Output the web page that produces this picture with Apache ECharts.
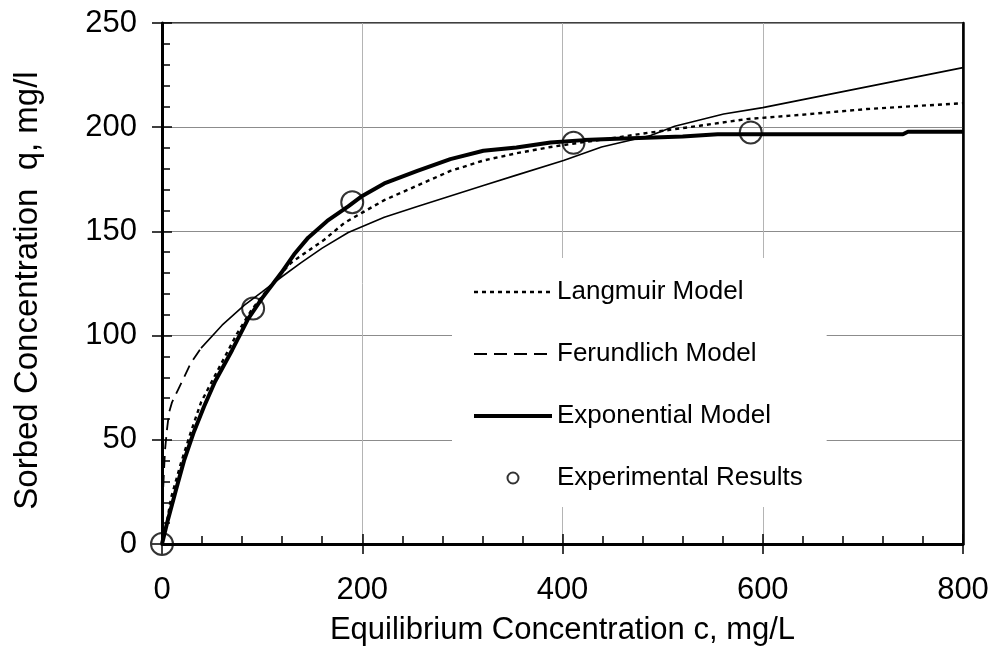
<!DOCTYPE html>
<html>
<head>
<meta charset="utf-8">
<title>Sorption isotherms</title>
<script src="https://cdn.jsdelivr.net/npm/echarts@6/dist/echarts.min.js"></script>
<style>
  html, body { margin: 0; padding: 0; background: #fff; }
  #chart { width: 997px; height: 652px; }
</style>
</head>
<body>
<div id="chart"></div>
<script>
"use strict";

// x ticks / y ticks
const X_TICKS = [0, 200, 400, 600, 800];
const Y_TICKS = [0, 50, 100, 150, 200, 250];

// [c, q]
const langmuir = [
  [0, 0], [4, 8], [9, 22], [19, 39], [29, 54], [39, 68], [52, 80], [75, 101],
  [89, 112], [110, 125], [129, 135], [162, 146], [182, 154], [200, 159],
  [222, 165], [255, 172], [288, 179], [321, 184], [354, 187.5], [388, 190.5],
  [412, 192.2], [454, 195], [481, 197], [537, 200.7], [584, 203.9], [637, 205.9],
  [704, 208.7], [754, 210.2], [800, 211.5]
];
// Freundlich: dashed near the origin, thin solid after that
const freundlichLow = [
  [0, 0], [0.5, 15], [1, 25], [2, 35], [3, 45], [5, 55], [7, 63], [10, 68],
  [16, 74], [22, 80], [29, 87], [39, 94]
];
const freundlichHigh = [
  [39, 94], [60, 105], [82, 114.5], [100, 121], [119, 128], [139, 135],
  [160, 142], [186, 149.5], [222, 156.8], [255, 162], [288, 167], [321, 172],
  [354, 177], [401, 184], [439, 190.5], [488, 196], [512, 200.5], [561, 206.3],
  [600, 209.4], [700, 219], [800, 228.6]
];
const exponential = [
  [0, 0], [5, 10], [14, 26], [22, 40], [32, 54], [42, 66], [53, 78], [70, 93],
  [86, 108], [100, 118], [119, 130], [132, 139], [146, 147], [165, 155],
  [186, 162], [200, 167], [222, 173], [255, 179], [288, 184.7], [321, 188.7],
  [354, 190.3], [388, 192.7], [421, 193.8], [454, 194.5], [491, 195],
  [520, 195.5], [555, 196.6], [740, 196.6], [745, 197.8], [800, 197.8]
];
const experimental = [[0, 0], [91, 113], [190, 164], [411, 192.5], [588, 197.5]];

const FONT = "Liberation Sans, Arial, sans-serif";

const chart = echarts.init(document.getElementById("chart"));

const axisLabel = { color: "#000", fontSize: 31, fontFamily: FONT };
const noDot = { opacity: 0 };

chart.setOption({
  animation: false,
  backgroundColor: "#fff",
  grid: {
    left: 162, right: 34, top: 23, bottom: 108,
    show: true, borderColor: "#000", borderWidth: 1.5
  },
  legend: {
    orient: "vertical",
    left: 452, top: 258,
    padding: [21, 24, 16, 20],
    backgroundColor: "#fff",
    itemWidth: 78, itemHeight: 11, itemGap: 36,
    textStyle: { color: "#000", fontSize: 26, fontFamily: FONT, lineHeight: 26 },
    data: [
      { name: "Langmuir Model", itemStyle: noDot, lineStyle: { width: 2.4, type: [4, 4] } },
      { name: "Ferundlich Model", itemStyle: noDot, lineStyle: { width: 2, type: [13, 7] } },
      { name: "Exponential Model", itemStyle: noDot, lineStyle: { width: 4, type: "solid" } },
      { name: "Experimental Results" }
    ]
  },
  xAxis: [
    {
      type: "value", min: X_TICKS[0], max: X_TICKS[X_TICKS.length - 1], interval: 200,
      position: "bottom",
      axisLine: { lineStyle: { color: "#000", width: 3 } },
      axisTick: { inside: true, length: 10, lineStyle: { color: "#000", width: 1.5 } },
      minorTick: { show: true, splitNumber: 5, length: 8, lineStyle: { color: "#000", width: 1.5 } },
      splitLine: { show: true, lineStyle: { color: "#b4b4b4", width: 1 } },
      axisLabel: Object.assign({ margin: 31, lineHeight: 30 }, axisLabel),
      name: "Equilibrium Concentration c, mg/L",
      nameLocation: "middle", nameGap: 71,
      nameTextStyle: { color: "#000", fontSize: 31, fontFamily: FONT, lineHeight: 31 }
    },
    {
      // outer half of the major ticks
      type: "value", min: 0, max: 800, interval: 200, position: "bottom",
      axisLine: { show: false },
      axisTick: { inside: false, length: 10, lineStyle: { color: "#000", width: 1.5 } },
      axisLabel: { show: false }, splitLine: { show: false }
    }
  ],
  yAxis: [
    {
      type: "value", min: Y_TICKS[0], max: Y_TICKS[Y_TICKS.length - 1], interval: 50,
      position: "left",
      axisLine: { show: true, lineStyle: { color: "#000", width: 3 } },
      axisTick: { show: true, inside: true, length: 10, lineStyle: { color: "#000", width: 1.5 } },
      minorTick: { show: true, splitNumber: 5, length: 8, lineStyle: { color: "#000", width: 1.5 } },
      splitLine: { show: true, lineStyle: { color: "#8c8c8c", width: 1 } },
      axisLabel: Object.assign({ margin: 25 }, axisLabel),
      name: "Sorbed Concentration  q, mg/l",
      nameLocation: "middle", nameGap: 118,
      nameTextStyle: {
        color: "#000", fontSize: 33, fontFamily: FONT, lineHeight: 33,
        padding: [0, 14, 0, 0]
      }
    },
    {
      type: "value", min: 0, max: 250, interval: 50, position: "left",
      axisLine: { show: false },
      axisTick: { show: true, inside: false, length: 10, lineStyle: { color: "#000", width: 1.5 } },
      axisLabel: { show: false }, splitLine: { show: false }
    },
    {
      // right frame
      type: "value", min: 0, max: 250, interval: 50, position: "right",
      axisLine: { show: true, lineStyle: { color: "#000", width: 2.5 } },
      axisTick: { show: false }, axisLabel: { show: false }, splitLine: { show: false }
    }
  ],
  series: [
    {
      name: "Langmuir Model", type: "line", data: langmuir, symbol: "none",
      itemStyle: { color: "#000" },
      lineStyle: { color: "#000", width: 2.4, type: [4, 4] }, z: 3
    },
    {
      name: "Ferundlich Model", type: "line", data: freundlichLow, symbol: "none",
      itemStyle: { color: "#000" },
      lineStyle: { color: "#000", width: 1.8, type: [12, 7] }, z: 3
    },
    {
      type: "line", data: freundlichHigh, symbol: "none",
      itemStyle: { color: "#000" },
      lineStyle: { color: "#000", width: 1.6, type: "solid" }, z: 3
    },
    {
      name: "Exponential Model", type: "line", data: exponential, symbol: "none",
      itemStyle: { color: "#000" },
      lineStyle: { color: "#000", width: 4 }, z: 4
    },
    {
      name: "Experimental Results", type: "scatter", data: experimental,
      symbol: "circle", symbolSize: 22,
      itemStyle: { color: "rgba(0,0,0,0)", borderColor: "#000", borderWidth: 2 }, z: 5
    }
  ]
});
</script>
</body>
</html>
